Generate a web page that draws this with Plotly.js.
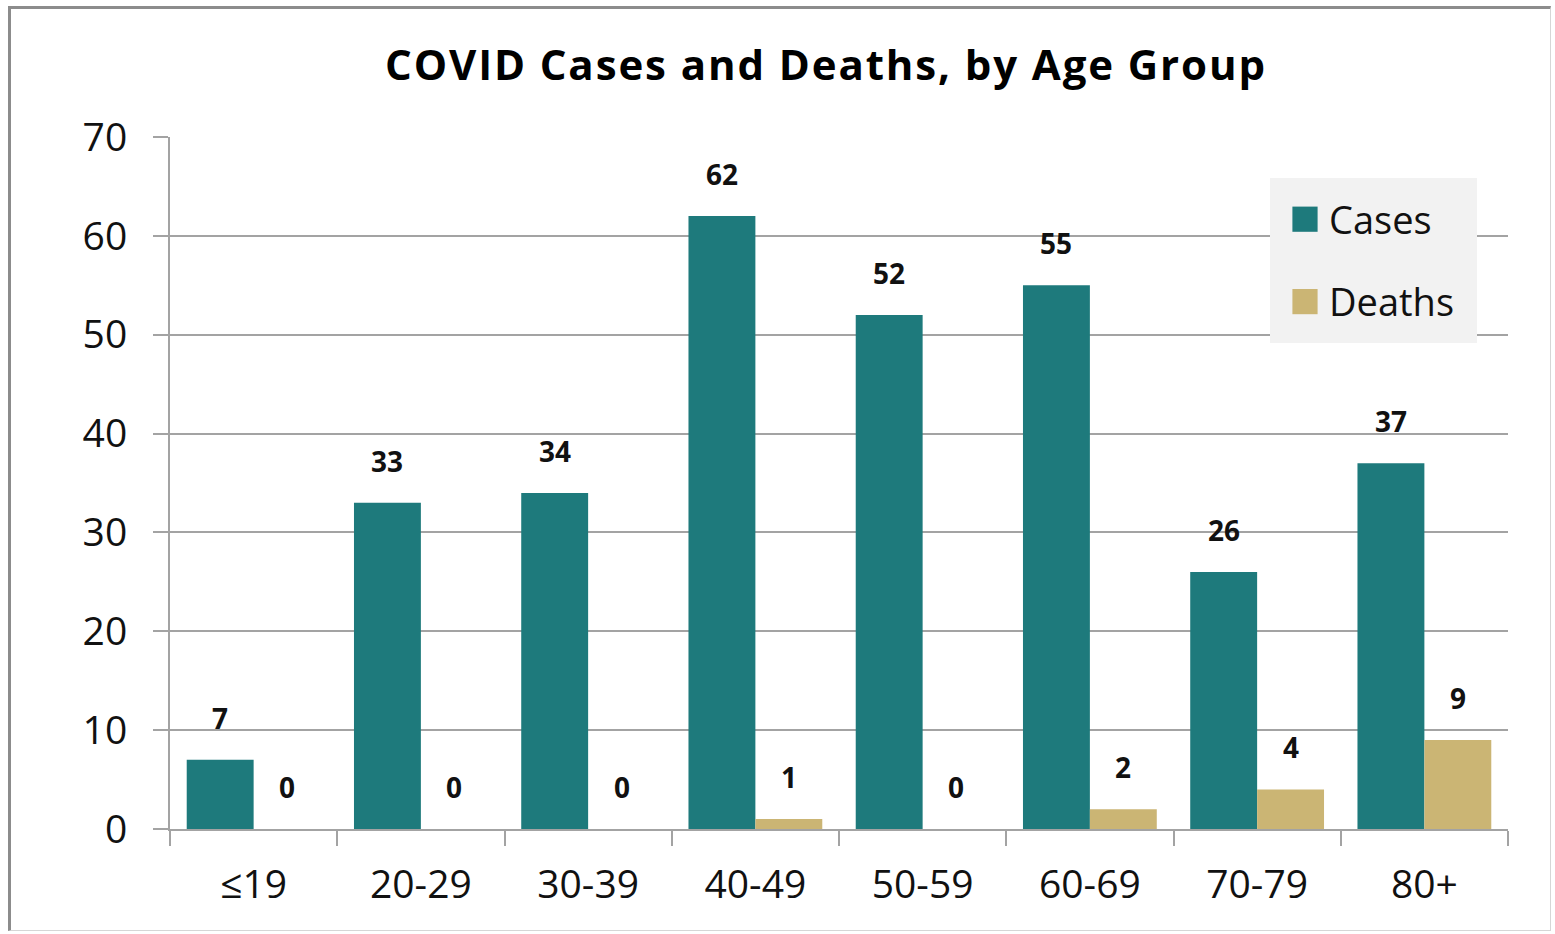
<!DOCTYPE html>
<html>
<head>
<meta charset="utf-8">
<script src="https://cdn.plot.ly/plotly-3.0.1.min.js"></script>
<style>
  html, body { margin: 0; padding: 0; background: #ffffff; }
  #wrap { position: relative; width: 1555px; height: 934px; }
  #chart { position: absolute; left: 0; top: 0; width: 1555px; height: 934px; }
  #frame {
    position: absolute; left: 8px; top: 6px; width: 1543px; height: 925px;
    border-left: 3px solid #8c8c8c; border-top: 3px solid #8c8c8c;
    border-right: 1px solid #d6d6d6; border-bottom: 1px solid #d6d6d6;
    box-sizing: border-box; pointer-events: none;
  }
</style>
</head>
<body>
<div id="wrap">
  <div id="chart"></div>
  <div id="frame"></div>
</div>
<script>
// Age groups and counts
const ageGroups = ['≤19', '20-29', '30-39', '40-49', '50-59', '60-69', '70-79', '80+'];
const cases = [7, 33, 34, 62, 52, 55, 26, 37];
const deaths = [0, 0, 0, 1, 0, 2, 4, 9];

const CASES_COLOR = '#1e7a7c';
const DEATHS_COLOR = '#cbb574';
const GRID = '#a3a3a3';
const FONT = 'Open Sans, Liberation Sans, sans-serif';

const W = 1555, H = 934;
const marginL = 170, marginR = 47, marginT = 137, marginB = 105;
const plotW = W - marginL - marginR;
const plotH = H - marginT - marginB;
const bargap = 0.2;
const catW = plotW / ageGroups.length;
const barShift = catW * (1 - bargap) / 4;   // half a bar width from category centre

// legend panel, in pixels
const LEG = { left: 1270, right: 1477, top: 178, bottom: 343, swatchX: 1305 };
const TITLE_WIDTH = 880;
const px2x = p => (p - marginL) / plotW;
const px2y = p => (H - marginB - p) / plotH;

const traces = [
  {
    type: 'bar', name: 'Cases', x: ageGroups, y: cases,
    marker: { color: CASES_COLOR }, legendgroup: 'c', hoverinfo: 'x+y'
  },
  {
    type: 'bar', name: 'Deaths', x: ageGroups, y: deaths,
    marker: { color: DEATHS_COLOR }, legendgroup: 'd', hoverinfo: 'x+y'
  }
];

// Value labels above each bar
const annotations = [];
function addLabels(values, shift) {
  values.forEach((v, i) => {
    annotations.push({
      x: ageGroups[i], y: v, xref: 'x', yref: 'y',
      xshift: shift, yshift: 42,
      text: '<b>' + v + '</b>', showarrow: false,
      xanchor: 'center', yanchor: 'middle',
      font: { family: FONT, size: 28, color: '#111111' }
    });
  });
}
addLabels(cases, -barShift);
addLabels(deaths, barShift);

const layout = {
  width: W, height: H,
  margin: { l: marginL, r: marginR, t: marginT, b: marginB },
  paper_bgcolor: '#ffffff', plot_bgcolor: '#ffffff',
  font: { family: FONT, color: '#111111' },
  title: {
    text: '<b>COVID Cases and Deaths, by Age Group</b>',
    font: { family: FONT, size: 42, color: '#000000' },
    x: 825 / W, xanchor: 'center', y: 1 - 65 / H, yanchor: 'middle', yref: 'container'
  },
  barmode: 'group', bargap: bargap, bargroupgap: 0,
  xaxis: {
    type: 'category', tickson: 'boundaries',
    ticks: 'outside', ticklen: 15, tickwidth: 2, tickcolor: GRID,
    showline: true, linecolor: GRID, linewidth: 2,
    showgrid: false, ticklabelstandoff: 20,
    tickfont: { family: FONT, size: 39, color: '#111111' }
  },
  yaxis: {
    range: [0, 70], dtick: 10, tick0: 0,
    ticks: 'outside', ticklen: 15, tickwidth: 2, tickcolor: GRID,
    showline: true, linecolor: GRID, linewidth: 2,
    showgrid: true, gridcolor: GRID, gridwidth: 2, zeroline: false,
    ticklabelstandoff: 18,
    tickfont: { family: FONT, size: 39, color: '#111111' }
  },
  // grey panel behind the legend
  shapes: [{
    type: 'rect', xref: 'paper', yref: 'paper', layer: 'above',
    x0: px2x(LEG.left), x1: px2x(LEG.right), y0: px2y(LEG.bottom), y1: px2y(LEG.top),
    fillcolor: '#f2f2f2', line: { width: 0 }
  }],
  legend: {
    x: px2x(LEG.left + 19), xanchor: 'left',
    y: px2y(LEG.top + 10), yanchor: 'top',
    bgcolor: 'rgba(0,0,0,0)', borderwidth: 0,
    font: { family: FONT, size: 38, color: '#111111' },
    tracegroupgap: 30, traceorder: 'grouped'
  },
  annotations: annotations,
  showlegend: true
};

Plotly.newPlot('chart', traces, layout, { displayModeBar: false, staticPlot: true }).then(() => {
  // enlarge the legend swatches and centre them on the panel's swatch column
  document.querySelectorAll('#chart .legendpoints path').forEach(p => {
    const base = p.getAttribute('transform') || '';
    p.setAttribute('transform', base + ' scale(2.1)');
    const r = p.getBoundingClientRect();
    const dx = LEG.swatchX - (r.left + r.width / 2);
    p.setAttribute('transform', 'translate(' + dx + ',0) ' + base + ' scale(2.1)');
  });
  // spread the title's letters across its full width
  const t = document.querySelector('#chart .gtitle');
  if (t) {
    t.setAttribute('textLength', TITLE_WIDTH);
    t.setAttribute('lengthAdjust', 'spacing');
  }
});
</script>
</body>
</html>
